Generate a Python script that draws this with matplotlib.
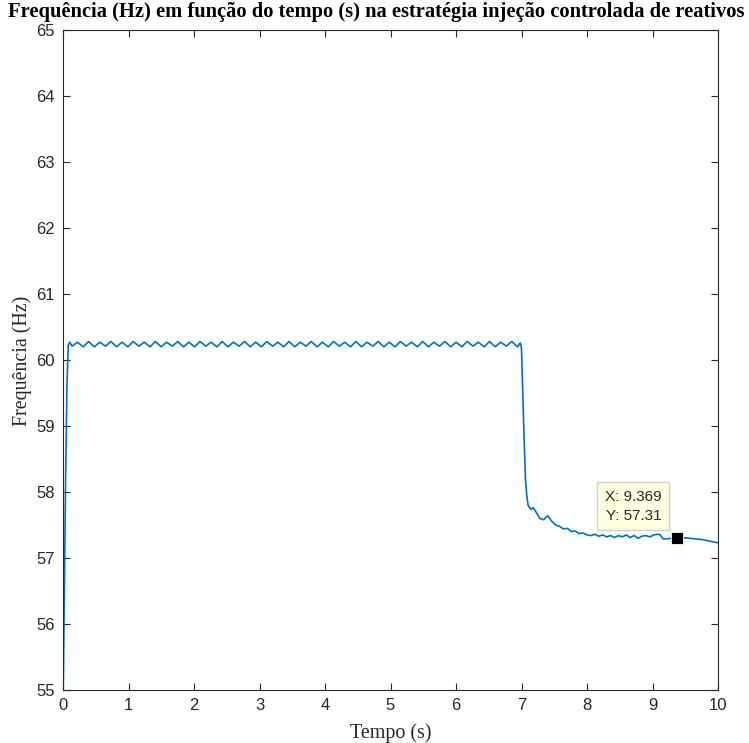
import matplotlib
matplotlib.use("Agg")
import matplotlib.pyplot as plt
import numpy as np

# ---- data ----
t_rise = [0.0, 0.02, 0.04, 0.06, 0.08, 0.10]
f_rise = [54.7, 56.4, 58.2, 59.6, 60.22, 60.27]

t_plat = [0.14, 0.22, 0.31, 0.39, 0.48, 0.56, 0.65, 0.73, 0.82, 0.90,
          0.99, 1.07, 1.16, 1.24, 1.33, 1.41, 1.50, 1.58, 1.67, 1.75,
          1.84, 1.92, 2.01, 2.09, 2.18, 2.26, 2.35, 2.43, 2.52, 2.60,
          2.69, 2.77, 2.86, 2.94, 3.03, 3.11, 3.20, 3.28, 3.37, 3.45,
          3.54, 3.62, 3.71, 3.79, 3.88, 3.96, 4.05, 4.13, 4.22, 4.30,
          4.39, 4.47, 4.56, 4.64, 4.73, 4.81, 4.90, 4.98, 5.07, 5.15,
          5.24, 5.32, 5.41, 5.49, 5.58, 5.66, 5.75, 5.83, 5.92, 6.00,
          6.09, 6.17, 6.26, 6.34, 6.43, 6.51, 6.60, 6.68, 6.77, 6.85,
          6.94, 6.98]
f_plat = [60.21, 60.27, 60.20, 60.28, 60.20, 60.27, 60.21, 60.28, 60.20, 60.27,
          60.20, 60.28, 60.21, 60.27, 60.20, 60.28, 60.20, 60.27, 60.21, 60.28,
          60.20, 60.27, 60.20, 60.28, 60.21, 60.27, 60.20, 60.28, 60.20, 60.27,
          60.21, 60.28, 60.20, 60.27, 60.20, 60.28, 60.21, 60.27, 60.20, 60.28,
          60.20, 60.27, 60.21, 60.28, 60.20, 60.27, 60.20, 60.28, 60.21, 60.27,
          60.20, 60.28, 60.20, 60.27, 60.21, 60.28, 60.20, 60.27, 60.20, 60.28,
          60.21, 60.27, 60.20, 60.28, 60.20, 60.27, 60.21, 60.28, 60.20, 60.27,
          60.20, 60.28, 60.21, 60.27, 60.20, 60.28, 60.20, 60.27, 60.21, 60.28,
          60.20, 60.26]

t_drop = [7.00, 7.02, 7.04, 7.06, 7.08, 7.10, 7.14, 7.18, 7.22, 7.28,
          7.34, 7.40, 7.46, 7.52, 7.58, 7.64, 7.70, 7.76, 7.82, 7.88,
          7.94, 8.00, 8.06, 8.12, 8.18, 8.24, 8.30, 8.36, 8.42, 8.48,
          8.54, 8.60, 8.66, 8.72, 8.78, 8.84, 8.90, 8.96, 9.02, 9.08,
          9.12, 9.16, 9.22, 9.30, 9.369, 9.45, 9.55, 9.65, 9.75, 9.85,
          9.95, 10.0]
f_drop = [60.18, 59.50, 58.80, 58.20, 57.95, 57.80, 57.74, 57.76, 57.70, 57.60,
          57.58, 57.64, 57.56, 57.50, 57.48, 57.44, 57.45, 57.40, 57.41, 57.37,
          57.38, 57.35, 57.34, 57.36, 57.33, 57.35, 57.32, 57.34, 57.31, 57.34,
          57.32, 57.35, 57.31, 57.34, 57.30, 57.33, 57.34, 57.32, 57.35, 57.36,
          57.35, 57.29, 57.29, 57.30, 57.31, 57.31, 57.30, 57.29, 57.28, 57.26,
          57.24, 57.23]

tip_x = 9.369
tip_y = 57.31

x_ticks = [0, 1, 2, 3, 4, 5, 6, 7, 8, 9, 10]
y_ticks = [55, 56, 57, 58, 59, 60, 61, 62, 63, 64, 65]

title = "Frequência (Hz) em função do tempo (s) na estratégia injeção controlada de reativos"
xlabel = "Tempo (s)"
ylabel = "Frequência (Hz)"

# ---- plot ----
t = t_rise + t_plat + t_drop
f = f_rise + f_plat + f_drop

W, H = 749, 743
fig = plt.figure(figsize=(W/100, H/100), dpi=100)
ax = fig.add_axes([63/W, 1-690/H, (718-63)/W, (690-30)/H])

ax.plot(t, f, color="#0072BD", lw=1.2)
ax.plot([tip_x], [tip_y], marker="s", ms=8, color="black",
        markeredgecolor="#FFFFE0", mew=0.6, linestyle="none", zorder=5)
ax.annotate(f"X: {tip_x}\nY: {tip_y}", xy=(tip_x, tip_y), xycoords="data",
            xytext=(-15, 15), textcoords="offset pixels", ha="right", va="bottom",
            fontsize=11, family="Liberation Sans", color="#262626",
            linespacing=1.45,
            bbox=dict(boxstyle="square,pad=0.5", fc="#FFFFE1", ec="#D0D0C8", lw=1))

ax.set_xlim(0, 10)
ax.set_ylim(55, 65)
ax.set_xticks(x_ticks)
ax.set_yticks(y_ticks)
ax.set_xticklabels([str(v) for v in x_ticks], family="Liberation Sans", fontsize=12, color="#262626")
ax.set_yticklabels([str(v) for v in y_ticks], family="Liberation Sans", fontsize=12, color="#262626")
ax.tick_params(direction="in", length=4.7, width=0.8, color="#262626",
               top=True, right=True, pad=6)
for s in ax.spines.values():
    s.set_color("#262626")
    s.set_linewidth(0.8)

fig.text(390.5/W, 1-733/H, xlabel, ha="center", va="center", family="Liberation Serif",
         fontsize=14.4, color="#262626")
fig.text(22/W, 1-361/H, ylabel, ha="center", va="center", rotation=90,
         family="Liberation Serif", fontsize=14.4, color="#262626")
fig.text(376/W, 1-12/H, title, ha="center", va="center", family="Liberation Serif",
         fontweight="bold", fontsize=14.8)

fig.savefig("out.png", dpi=100)
